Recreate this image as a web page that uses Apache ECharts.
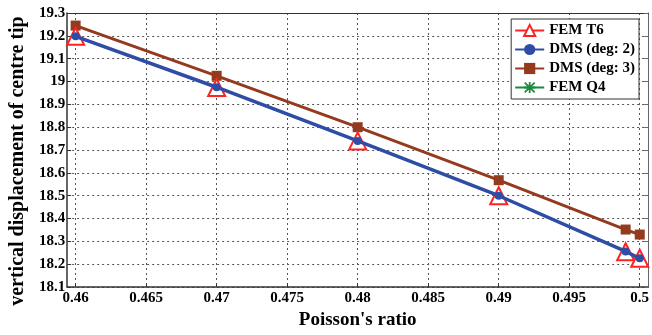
<!DOCTYPE html>
<html><head><meta charset="utf-8">
<script src="https://cdn.jsdelivr.net/npm/echarts@6/dist/echarts.min.js"></script>
<style>html,body{margin:0;padding:0;background:#fff}#c{width:652px;height:335px}</style>
</head><body><div id="c"></div>
<script>
const nu = [0.46, 0.47, 0.48, 0.49, 0.499, 0.5];
const femT6 = [19.198, 18.974, 18.740, 18.500, 18.255, 18.226];
const dms2 = [19.198, 18.975, 18.740, 18.500, 18.256, 18.226];
const dms3 = [19.245, 19.025, 18.800, 18.568, 18.352, 18.330];
const femQ4 = [];
const xTicks = [0.46, 0.465, 0.47, 0.475, 0.48, 0.485, 0.49, 0.495, 0.5];
const yTicks = [18.1, 18.2, 18.3, 18.4, 18.5, 18.6, 18.7, 18.8, 18.9, 19, 19.1, 19.2, 19.3];

const font = 'Liberation Serif';
const pair = a => nu.map((x, i) => [x, a[i]]).filter(p => p[1] !== undefined);
const chart = echarts.init(document.getElementById('c'));
const grid = {color: '#555', type: [2, 3], width: 1};
const asterisk = 'path://M4.2,0H5.8V10H4.2Z M0,4.2H10V5.8H0Z M1.1,0L10,8.9L8.9,10L0,1.1Z M8.9,0L10,1.1L1.1,10L0,8.9Z';
chart.setOption({
  animation: false,
  grid: {left: 59, right: 2, top: 13, bottom: 39, show: false},
  xAxis: [{
    type: 'value', min: 0.4594, max: 0.5006,
    name: "Poisson's ratio", nameLocation: 'middle', nameGap: 21,
    nameTextStyle: {fontFamily: font, fontWeight: 'bold', fontSize: 19, color: '#000'},
    axisLine: {show: true, lineStyle: {color: '#333', width: 1.5}},
    axisTick: {show: true, inside: true, length: 4, customValues: xTicks, lineStyle: {color: '#333'}},
    axisLabel: {customValues: xTicks, fontFamily: font, fontWeight: 'bold', fontSize: 15, color: '#000', margin: 4,
      formatter: v => String(+v.toFixed(4))},
    splitLine: {show: true, lineStyle: grid}
  }, {
    type: 'value', position: 'top', min: 0.4594, max: 0.5006,
    axisLine: {show: true, lineStyle: {color: '#333', width: 1}},
    axisTick: {show: false}, axisLabel: {show: false}, splitLine: {show: false}
  }],
  yAxis: [{
    type: 'value', min: 18.1, max: 19.3, interval: 0.1,
    name: 'vertical displacement of centre tip', nameLocation: 'middle', nameGap: 34,
    nameTextStyle: {fontFamily: font, fontWeight: 'bold', fontSize: 20, color: '#000', padding: [0, 22, 0, 0]},
    axisLine: {show: true, lineStyle: {color: '#333', width: 1.5}},
    axisTick: {show: true, inside: true, length: 4, lineStyle: {color: '#333'}},
    axisLabel: {fontFamily: font, fontWeight: 'bold', fontSize: 15, color: '#000', margin: 2,
      formatter: v => String(+v.toFixed(2))},
    splitLine: {show: true, lineStyle: grid}
  }, {
    type: 'value', position: 'right', min: 18.1, max: 19.3, interval: 0.1,
    axisLine: {show: true, lineStyle: {color: '#666', width: 1}},
    axisTick: {show: true, inside: true, length: 4, lineStyle: {color: '#666'}},
    axisLabel: {show: false}, splitLine: {show: false}
  }],
  legend: {
    right: 13, top: 19, orient: 'vertical', itemGap: 4, itemWidth: 29, itemHeight: 14,
    padding: [4, 4, 4, 3], backgroundColor: '#fff', borderColor: '#333', borderWidth: 1,
    textStyle: {fontFamily: font, fontWeight: 'bold', fontSize: 15, color: '#000'},
    data: ['FEM T6', 'DMS (deg: 2)', 'DMS (deg: 3)', 'FEM Q4']
  },
  series: [
    {name: 'FEM Q4', type: 'line', data: pair(femQ4), color: '#1b8a3c', symbol: asterisk, symbolSize: 9,
      lineStyle: {width: 3}, z: 1},
    {name: 'DMS (deg: 3)', type: 'line', data: pair(dms3), color: '#943a1e', symbol: 'rect', symbolSize: 10,
      lineStyle: {width: 3}, z: 2},
    {name: 'FEM T6', type: 'line', data: pair(femT6), color: '#ff2222', symbol: 'emptyTriangle', symbolSize: 17,
      lineStyle: {width: 2}, itemStyle: {borderWidth: 3, color: '#ff2222', borderColor: '#ff2222'}, z: 3},
    {name: 'DMS (deg: 2)', type: 'line', data: pair(dms2), color: '#2e4da6', symbol: 'circle', symbolSize: 8,
      lineStyle: {width: 3.5}, z: 4}
  ]
});
</script></body></html>
